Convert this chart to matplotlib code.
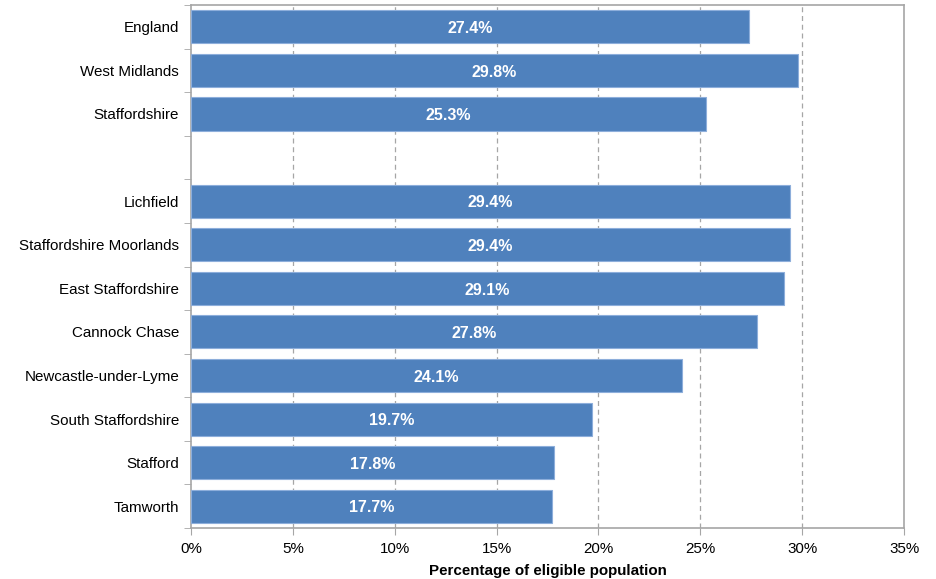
import matplotlib.pyplot as plt
import numpy as np

plt.rcParams["font.family"] = ["Liberation Sans", "DejaVu Sans"]

# Areas in display order, top to bottom; "" marks the gap between regions and districts
areas = ["England", "West Midlands", "Staffordshire", "",
         "Lichfield", "Staffordshire Moorlands", "East Staffordshire",
         "Cannock Chase", "Newcastle-under-Lyme", "South Staffordshire",
         "Stafford", "Tamworth"]
uptake = [27.4, 29.8, 25.3, None,
          29.4, 29.4, 29.1, 27.8, 24.1, 19.7, 17.8, 17.7]

bar_color = "#4F81BD"
grid_color = "#A6A6A6"

fig = plt.figure(figsize=(9.37, 5.79), dpi=100)
ax = fig.add_axes([0.2038, 0.088, 0.761, 0.9034])

n = len(areas)
pos = np.arange(n)
for y, label, val in zip(pos, areas, uptake):
    if val is None:
        continue
    ax.barh(y, val, height=0.76, color=bar_color, edgecolor="#8DAEDB", linewidth=0.8, zorder=3)
    ax.text(val / 2, y + 0.04, f"{val:.1f}%", ha="center", va="center",
            color="white", fontsize=11.5, fontweight="bold", zorder=4)

ax.set_ylim(n - 0.5, -0.5)
ax.set_xlim(0, 35)

ax.set_yticks(pos)
ax.set_yticklabels(areas, fontsize=10.9)
ax.set_yticks(np.arange(n + 1) - 0.5, minor=True)
ax.tick_params(axis="y", which="major", length=0, pad=8.5)
ax.tick_params(axis="y", which="minor", length=5, color=grid_color, direction="out")

xt = np.arange(0, 36, 5)
ax.set_xticks(xt)
ax.set_xticklabels([f"{v}%" for v in xt], fontsize=10.9)
ax.tick_params(axis="x", length=5, color=grid_color, direction="out", pad=5)

for v in xt[1:-1]:
    ax.axvline(v, color=grid_color, linestyle=(0, (4, 3)), linewidth=0.9, zorder=1)

for s in ax.spines.values():
    s.set_color(grid_color)
    s.set_linewidth(1.2)

ax.set_xlabel("Percentage of eligible population", fontsize=10.9, fontweight="bold", labelpad=6)

fig.savefig("out.png", dpi=100)
